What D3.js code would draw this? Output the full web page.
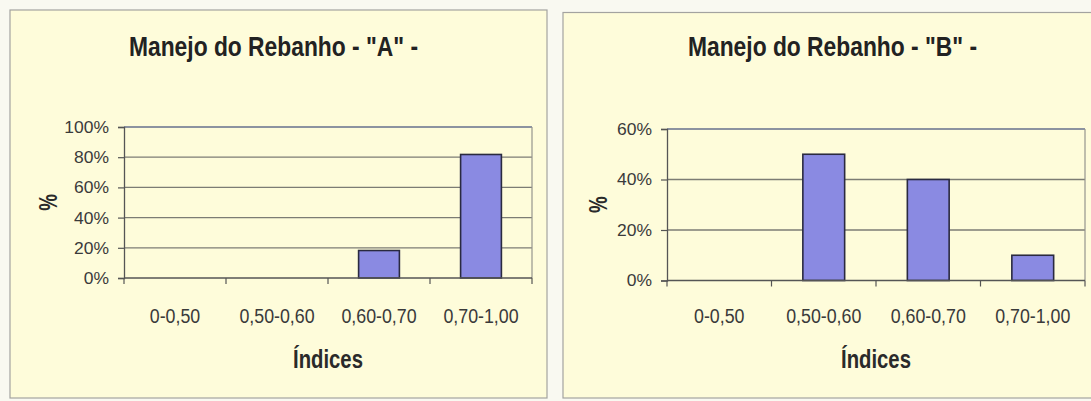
<!DOCTYPE html>
<html>
<head>
<meta charset="utf-8">
<script src="https://cdn.jsdelivr.net/npm/d3@7"></script>
<style>
  html, body { margin: 0; padding: 0; background: #f9f9f1; }
  svg { display: block; }
  text { font-family: Arial, "Liberation Sans", sans-serif; fill: #333; }
</style>
</head>
<body>
<svg id="chart" width="1091" height="401"></svg>
<script>
// Class intervals of the index (shared by both herds)
const categories = ["0-0,50", "0,50-0,60", "0,60-0,70", "0,70-1,00"];

// Share of animals (%) in each class
const herdAValues = [0, 0, 18.2, 81.8];
const herdBValues = [0, 50, 40, 10];

// Y tick values (%)
const herdATicks = [0, 20, 40, 60, 80, 100];
const herdBTicks = [0, 20, 40, 60];

const titles = ['Manejo do Rebanho - "A" -', 'Manejo do Rebanho - "B" -'];
const xTitle = "Índices";
const yTitle = "%";

const svg = d3.select("#chart");

// Text helper: horizontal squeeze (sx) mimics the narrow typeface of the print
function label(g, txt, x, y, o) {
  const rot = o.rotate ? ` rotate(${o.rotate})` : "";
  return g.append("text")
    .attr("transform", `translate(${x},${y})${rot} scale(${o.sx || 1},1)`)
    .attr("text-anchor", o.anchor || "middle")
    .attr("dy", o.dy || 0)
    .style("font-size", o.size + "px")
    .style("font-weight", o.weight || "normal")
    .style("fill", o.fill || "#3a3a3a")
    .text(txt);
}

function drawPanel(cfg) {
  const g = svg.append("g");

  // chart area frame
  g.append("rect")
    .attr("x", cfg.box[0]).attr("y", cfg.box[1])
    .attr("width", cfg.box[2] - cfg.box[0]).attr("height", cfg.box[3] - cfg.box[1])
    .attr("fill", "#fefcda").attr("stroke", "#a3a3a0").attr("stroke-width", 1.2);

  const x = d3.scaleBand().domain(categories).range([cfg.left, cfg.right]).paddingInner(0).paddingOuter(0);
  const y = d3.scaleLinear().domain([0, cfg.max]).range([cfg.bottom, cfg.top]);

  // horizontal gridlines
  g.append("g").selectAll("line").data(cfg.ticks.filter(t => t > 0)).join("line")
    .attr("x1", cfg.left).attr("x2", cfg.right)
    .attr("y1", d => y(d)).attr("y2", d => y(d))
    .attr("stroke", d => d === cfg.max ? "#66708c" : "#7c7c74")
    .attr("stroke-width", d => d === cfg.max ? 1.7 : 1.3);

  // right border of the plot area
  g.append("line")
    .attr("x1", cfg.right).attr("x2", cfg.right)
    .attr("y1", cfg.top).attr("y2", cfg.bottom)
    .attr("stroke", "#94948e").attr("stroke-width", 1.2);

  // bars
  const bw = x.bandwidth() * 0.4;
  g.append("g").selectAll("rect").data(cfg.values.map((v, i) => ({ c: categories[i], v })).filter(d => d.v > 0))
    .join("rect")
    .attr("x", d => x(d.c) + (x.bandwidth() - bw) / 2)
    .attr("y", d => y(d.v))
    .attr("width", bw)
    .attr("height", d => cfg.bottom - y(d.v))
    .attr("fill", "#8a8ae2")
    .attr("stroke", "#2a2a40")
    .attr("stroke-width", 1.6);

  // y axis
  const yAxis = g.append("g")
    .attr("transform", `translate(${cfg.left},0)`)
    .call(d3.axisLeft(y).tickValues(cfg.ticks).tickSize(6).tickFormat(""));
  yAxis.select(".domain").attr("stroke", "#555").attr("stroke-width", 1.3);
  yAxis.selectAll(".tick line").attr("stroke", "#555").attr("stroke-width", 1.2);

  cfg.ticks.forEach(t => label(g, t + "%", cfg.left - 15, y(t), { size: 16.5, anchor: "end", sx: 1.06, dy: "0.36em" }));

  // x axis: ticks sit on the category boundaries
  const bounds = categories.map(c => x(c)).concat([cfg.right]);
  g.append("line")
    .attr("x1", cfg.left).attr("x2", cfg.right)
    .attr("y1", cfg.bottom).attr("y2", cfg.bottom)
    .attr("stroke", "#555").attr("stroke-width", 1.4);
  g.append("g").selectAll("line").data(bounds).join("line")
    .attr("x1", d => d).attr("x2", d => d)
    .attr("y1", cfg.bottom).attr("y2", cfg.bottom + 6)
    .attr("stroke", "#555").attr("stroke-width", 1.2);

  categories.forEach(c => label(g, c, x(c) + x.bandwidth() / 2, 322.5, { size: 20, sx: 0.89 }));

  // titles
  label(g, cfg.title, cfg.titleX, 56, { size: 28, weight: "bold", sx: 0.815, fill: "#222" });
  label(g, xTitle, (cfg.left + cfg.right) / 2, 368, { size: 26, weight: "bold", sx: 0.78, fill: "#2a2a2a" });
  label(g, yTitle, cfg.yTitleX, (cfg.top + cfg.bottom) / 2, { size: 25, weight: "bold", sx: 0.75, rotate: -90, fill: "#2a2a2a" });
}

drawPanel({
  box: [10, 10, 547, 398],
  left: 124, right: 532, top: 127, bottom: 278,
  max: 100, ticks: herdATicks, values: herdAValues,
  title: titles[0], titleX: 273.5, yTitleX: 57
});

drawPanel({
  box: [563, 12.5, 1100, 398],
  left: 667, right: 1085, top: 129, bottom: 280.5,
  max: 60, ticks: herdBTicks, values: herdBValues,
  title: titles[1], titleX: 832.5, yTitleX: 607
});
</script>
</body>
</html>
